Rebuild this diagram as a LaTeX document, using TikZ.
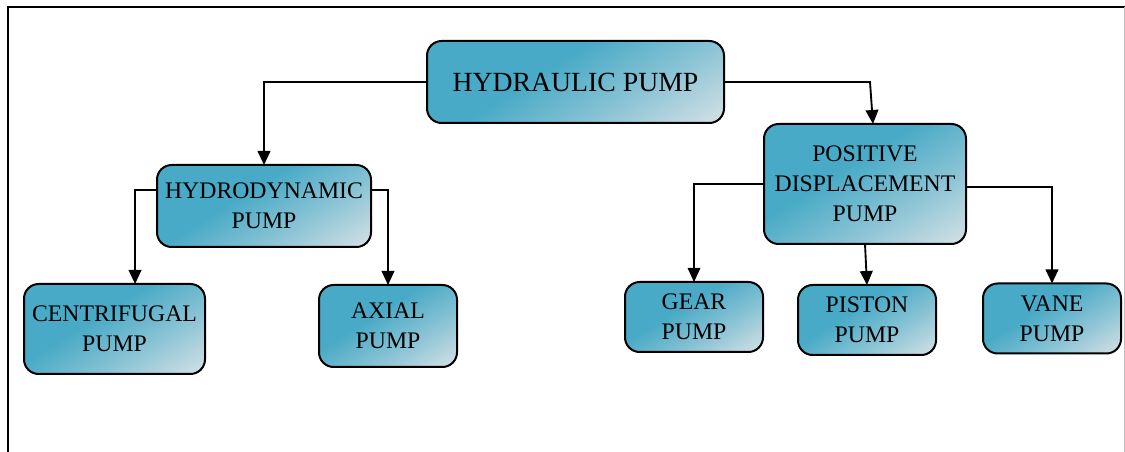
\documentclass[tikz,border=0pt]{standalone}
\usepackage{fontspec}
\setmainfont{Liberation Serif}
\usetikzlibrary{arrows.meta}
\definecolor{tealc}{RGB}{72,170,198}
\definecolor{midc}{RGB}{135,194,212}
\definecolor{lightc}{RGB}{226,230,232}
\pgfdeclarehorizontalshading{boxshade}{100bp}{color(0bp)=(tealc); color(42bp)=(tealc); color(62bp)=(midc); color(88bp)=(lightc); color(100bp)=(lightc)}
\begin{document}
\begin{tikzpicture}[x=0.75pt,y=-0.75pt,
  box/.style={draw=black, line width=1.5pt, rounded corners=11pt,
    shading=boxshade, shading angle=-58, inner sep=0pt, outer sep=0pt,
    align=center, font=\fontsize{17.8}{22.5}\selectfont},
  conn/.style={draw=black, line width=1.4pt, -{Triangle[length=10.5pt,width=9.5pt]}}]
\useasboundingbox (0,0) rectangle (1125,452);
\draw[line width=1.6pt] (8,452) -- (8,7) -- (1125,7);
\draw[black!25, line width=0.6pt] (1124,7) -- (1124,452);

\node[box, minimum width=222.75pt, minimum height=61.5pt, font=\fontsize{20.8}{24}\selectfont] (hp) at (575.5,82) {HYDRAULIC PUMP};
\node[box, minimum width=160.5pt, minimum height=61.5pt] (hd) at (264,206) {HYDRODYNAMIC\\PUMP};
\node[box, minimum width=151.5pt, minimum height=90pt] (pd) at (865,184) {POSITIVE\\DISPLACEMENT\\PUMP};
\node[box, minimum width=135.75pt, minimum height=67.5pt] (cf) at (114.5,329) {CENTRIFUGAL\\PUMP};
\node[box, minimum width=103.5pt, minimum height=61.5pt] (ax) at (388,326) {AXIAL\\PUMP};
\node[box, minimum width=103.5pt, minimum height=52.5pt] (gr) at (694,317) {GEAR\\PUMP};
\node[box, minimum width=103.5pt, minimum height=52.5pt] (ps) at (867,320) {PISTON\\PUMP};
\node[box, minimum width=103.5pt, minimum height=52.5pt] (vn) at (1052,318.5) {VANE\\PUMP};

\coordinate (c1) at (870,82);
\draw[conn] (hp.west) -| (hd.north);
\draw[conn] (hp.east) -- (c1) -- ([xshift=6pt]pd.north);
\draw[conn] ([yshift=12pt]hd.west) -| ([xshift=15.4pt]cf.north);
\draw[conn] ([yshift=12pt]hd.east) -| (ax.north);
\draw[conn, line width=0.8pt] (pd.west) -| (gr.north);
\draw[conn] (pd.south) -- (ps.north);
\draw[conn] ([yshift=-2pt]pd.east) -| (vn.north);
\end{tikzpicture}
\end{document}
